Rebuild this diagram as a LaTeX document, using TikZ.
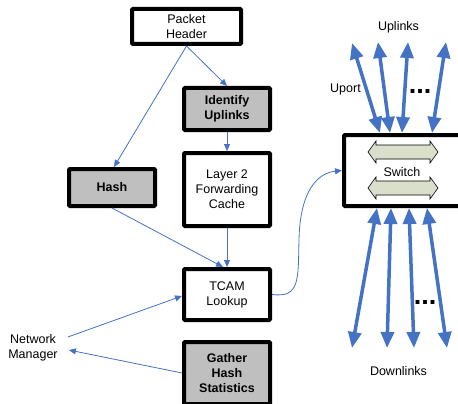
\documentclass[tikz,border=0pt]{standalone}
\usepackage{fontspec}
\setmainfont{Liberation Sans}
\usetikzlibrary{arrows.meta,calc}
\definecolor{linkblue}{RGB}{68,114,196}
\definecolor{boxgray}{RGB}{191,191,191}
\definecolor{busfill}{RGB}{218,223,204}
\begin{document}
\begin{tikzpicture}[x=1pt,y=-1pt,
  font=\fontsize{12.5}{15}\selectfont,
  blk/.style={draw=black,line width=4pt,rounded corners=1pt,align=center,inner sep=0pt,fill=white},
  hl/.style={blk,fill=boxgray,font=\fontsize{12.5}{15}\selectfont\bfseries},
  thin/.style={draw=linkblue,line width=0.8pt,-{Triangle[length=7pt,width=6pt]}},
  link/.style={draw=linkblue,line width=3.5pt,{Triangle[length=16pt,width=13pt]}-{Triangle[length=16pt,width=13pt]}},
  lbl/.style={align=center,inner sep=0pt},
  dots/.style={inner sep=0pt,font=\fontsize{27}{27}\selectfont\bfseries},
  bus/.style={draw=black,line width=0.6pt,fill=busfill},
  busarrow/.pic={\draw[bus] (-35,0) -- (-27,-11) -- (-27,-7) -- (27,-7) -- (27,-11)
      -- (35,0) -- (27,11) -- (27,7) -- (-27,7) -- (-27,11) -- cycle;}
]
\useasboundingbox (0,0) rectangle (458,404);
\clip (0,0) rectangle (458,404);

% processing pipeline
\node[blk,minimum width=109pt,minimum height=35pt] (pkt) at (186.5,26.5) {Packet\\Header};
\node[hl,minimum width=86pt,minimum height=42pt] (idu) at (227,109) {Identify\\Uplinks};
\node[blk,minimum width=86pt,minimum height=73pt] (l2) at (227,189.5) {Layer 2\\Forwarding\\Cache};
\node[hl,minimum width=86pt,minimum height=37pt] (hash) at (112,187.5) {Hash};
\node[blk,minimum width=86pt,minimum height=51pt] (tcam) at (227,294.5) {TCAM\\Lookup};
\node[hl,minimum width=86pt,minimum height=62pt] (gath) at (227,373) {Gather\\Hash\\Statistics};
\node[lbl] (nm) at (33,348) {Network\\Manager};

% switch with its internal buses
\node[blk,minimum width=126pt,minimum height=71pt] (sw) at (407,170.5) {};
\pic at (403,152) {busarrow};
\pic at (403,188) {busarrow};
\node[lbl] (swl) at (402,172) {Switch};

% labels around the switch
\node[lbl] (upl) at (398.5,27) {Uplinks};
\node[lbl] (upt) at (345.5,89) {Uport};
\node[dots] (dt1) at (420,91) {...};
\node[dots] (dt2) at (425,302) {...};
\node[lbl] (dnl) at (398.5,371) {Downlinks};

% pipeline connectors
\draw[thin] (pkt.south) -- (idu.north);
\draw[thin] (pkt.south) -- ([xshift=2pt]hash.north);
\draw[thin] (idu.south) -- (l2.north);
\draw[thin] (l2.south) -- (tcam.north);
\draw[thin] (hash.south) -- ([xshift=-4pt]tcam.north);
\draw[thin] ([shift={(10pt,11pt)}]nm.east) -- ([yshift=-1.5pt]tcam.west);
\draw[thin] (gath.west) -- ([shift={(11pt,-2pt)}]nm.east);
\draw[thin] (tcam.east) .. controls (300,298) and (298,280) .. (299,240)
  .. controls (300,190) and (318,173) .. (sw.west);

% uplink ends
\coordinate (u1) at (352,43);
\coordinate (u2) at (378,42);
\coordinate (u3) at (408,42);
\coordinate (u4) at (446,42);
\draw[link] ([xshift=38pt]sw.north west) -- (u1);
\draw[link] ([xshift=48pt]sw.north west) -- (u2);
\draw[link] ([xshift=60pt]sw.north west) -- (u3);
\draw[link] ([xshift=90pt]sw.north west) -- (u4);

% downlink ends
\coordinate (d1) at (352,348);
\coordinate (d2) at (387,348);
\coordinate (d3) at (414,348);
\coordinate (d4) at (447,348);
\draw[link] ([xshift=35pt]sw.south west) -- (d1);
\draw[link] ([xshift=49pt]sw.south west) -- (d2);
\draw[link] ([xshift=67pt]sw.south west) -- (d3);
\draw[link] ([xshift=85pt]sw.south west) -- (d4);
\end{tikzpicture}
\end{document}
